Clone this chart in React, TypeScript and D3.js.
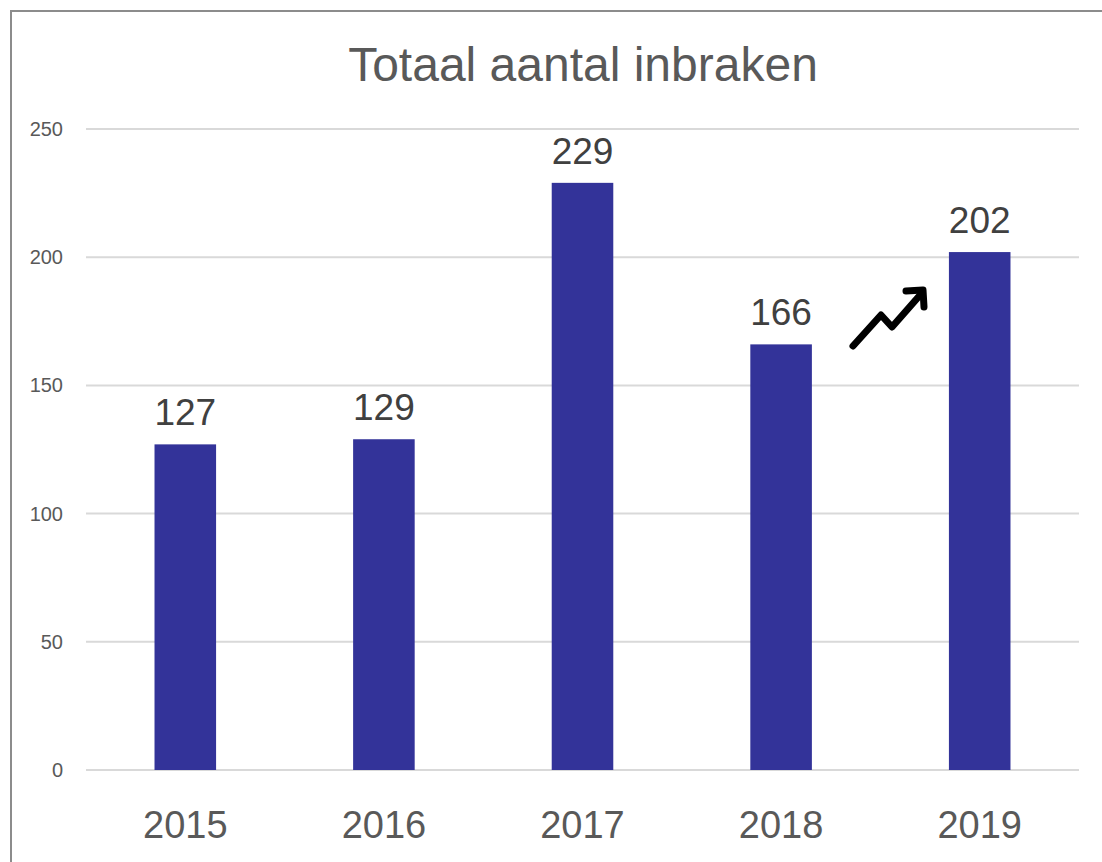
import * as d3 from 'd3';
import React from 'react';

const years = ['2015', '2016', '2017', '2018', '2019'];
const burglaries = [127, 129, 229, 166, 202];
const yTicks = [0, 50, 100, 150, 200, 250];

const W = 1102;
const H = 862;
const margin = { left: 86, right: 23, top: 129, bottom: 92 };
const FONT = '"Liberation Sans", Arial, sans-serif';

const App = () => {
  const x = d3
    .scaleBand<string>()
    .domain(years)
    .range([margin.left, W - margin.right])
    .paddingInner(0.69)
    .paddingOuter(0.345);

  const y = d3.scaleLinear().domain([0, 250]).range([H - margin.bottom, margin.top]);

  const arrow = d3.line()([
    [853, 346],
    [881, 315],
    [892, 327],
    [921, 294],
  ]);

  return (
    <div style={{ position: 'absolute', left: 0, top: 0 }}>
      <svg width={W} height={H} style={{ display: 'block', background: '#fff' }}>
        <path d={`M11,${H} V11 H${W}`} fill="none" stroke="#8c8c8c" strokeWidth={2} />
        <text x={583} y={81} textAnchor="middle" fontFamily={FONT} fontSize={48} fill="#595959">
          Totaal aantal inbraken
        </text>

        {yTicks.map((t) => (
          <g key={t}>
            <line x1={margin.left} x2={W - margin.right} y1={y(t)} y2={y(t)} stroke="#d9d9d9" strokeWidth={2} />
            <text x={63} y={y(t)} dy="0.35em" textAnchor="end" fontFamily={FONT} fontSize={20} fill="#595959">
              {t}
            </text>
          </g>
        ))}

        {years.map((yr, i) => (
          <g key={yr}>
            <rect x={x(yr)} y={y(burglaries[i])} width={x.bandwidth()} height={y(0) - y(burglaries[i])} fill="#333399" />
            <text
              x={x(yr)! + x.bandwidth() / 2}
              y={y(burglaries[i]) - 19}
              textAnchor="middle"
              fontFamily={FONT}
              fontSize={37}
              fill="#404040"
            >
              {burglaries[i]}
            </text>
            <text
              x={x(yr)! + x.bandwidth() / 2}
              y={838}
              textAnchor="middle"
              fontFamily={FONT}
              fontSize={38}
              fill="#595959"
            >
              {yr}
            </text>
          </g>
        ))}

        <path d={arrow!} fill="none" stroke="#000" strokeWidth={7} strokeLinecap="round" strokeLinejoin="round" />
        <path d="M906,291 L923,290 L924,307" fill="none" stroke="#000" strokeWidth={7} strokeLinecap="round" strokeLinejoin="round" />
      </svg>
    </div>
  );
};

export default App;
